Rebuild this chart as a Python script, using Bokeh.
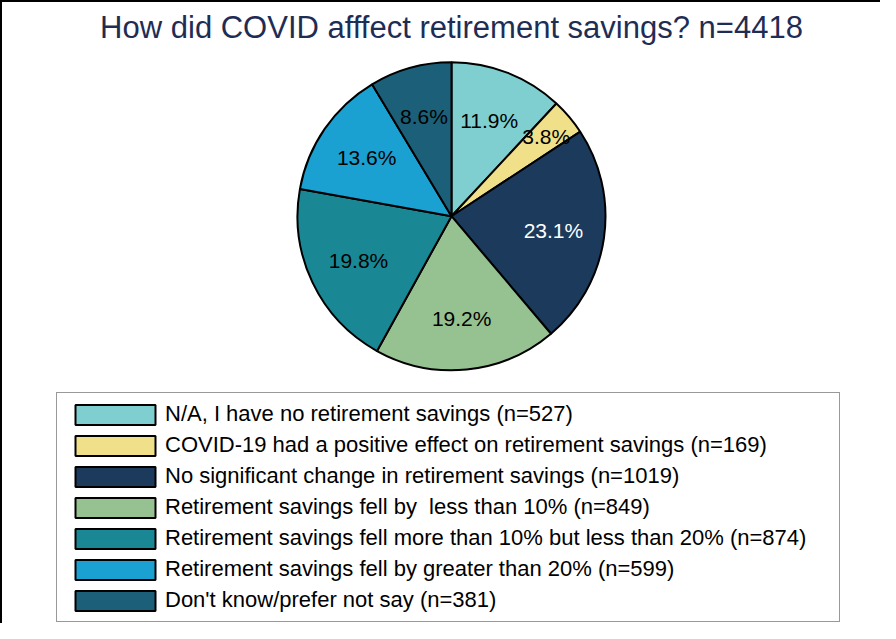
import numpy as np
from bokeh.plotting import figure
from bokeh.models import Range1d, ColumnDataSource, Legend, LegendItem
from bokeh.core.properties import value
from bokeh.embed import file_html
from bokeh.resources import INLINE

# ---- data -------------------------------------------------------------
title_text = "How did COVID afffect retirement savings? n=4418"
categories = [
    "N/A, I have no retirement savings",
    "COVID-19 had a positive effect on retirement savings",
    "No significant change in retirement savings",
    "Retirement savings fell by  less than 10%",
    "Retirement savings fell more than 10% but less than 20%",
    "Retirement savings fell by greater than 20%",
    "Don't know/prefer not say",
]
counts = [527, 169, 1019, 849, 874, 599, 381]

# ---- styles -----------------------------------------------------------
colors = ["#7FCFD0", "#F1E08A", "#1B3A5C", "#96C291", "#1A8894", "#1AA0D1", "#1C5F78"]
label_colors = ["black", "black", "white", "black", "black", "black", "black"]
label_dist = [103, 124, 103, 103, 103, 103, 103]   # px from centre
FONT = "Liberation Sans"

W, H = 880, 623
TOP = 50
LEFT = 18
frame_h = H - TOP
R = 154
cy = frame_h - (213 - TOP)

total = sum(counts)
frac = np.array(counts, dtype=float) / total
cum = np.concatenate([[0.0], np.cumsum(frac)])
start = np.pi / 2 - cum[:-1] * 2 * np.pi
end = np.pi / 2 - cum[1:] * 2 * np.pi
mid = (cum[:-1] + cum[1:]) / 2 * 2 * np.pi
pct = [f"{f * 100:.1f}%" for f in frac]
legend_labels = [f"{c} (n={n})" for c, n in zip(categories, counts)]

src = ColumnDataSource(dict(
    x=[0.0] * len(counts), y=[cy] * len(counts),
    start=start, end=end, color=colors,
    pct=pct, tcolor=label_colors,
    xo=np.array(label_dist) * np.sin(mid),
    yo=-np.array(label_dist) * np.cos(mid),
))

p = figure(width=W, height=H, output_backend="svg", toolbar_location=None,
           x_range=Range1d(-1, 1), y_range=Range1d(0, frame_h),
           x_axis_type=None, y_axis_type=None,
           min_border_left=LEFT, min_border_right=0,
           min_border_top=TOP, min_border_bottom=0,
           outline_line_color=None, title=title_text)
p.grid.visible = False
p.title.align = "center"
p.title.vertical_align = "top"
p.title.standoff = 14
p.title.text_font = FONT
p.title.text_font_size = "31px"
p.title.text_font_style = "normal"
p.title.text_color = "#1F2D55"
p.styles = {"border-top": "2px solid black", "border-left": "2px solid black"}

r = p.wedge(x="x", y="y", radius=R, radius_units="screen",
            start_angle="start", end_angle="end", direction="clock",
            fill_color="color", line_color="black", line_width=2, source=src)

p.text(x="x", y="y", text="pct", x_offset="xo", y_offset="yo",
       text_align="center", text_baseline="middle",
       text_font=value(FONT), text_font_size="21px", text_color="tcolor",
       source=src)

items = [LegendItem(label=lab, renderers=[r], index=i) for i, lab in enumerate(legend_labels)]
legend = Legend(items=items, location=(36, 3),
                label_text_font=FONT, label_text_font_size="22px",
                label_text_color="black",
                glyph_width=100, glyph_height=25, label_standoff=0,
                label_width=666, label_height=25,
                padding=8, spacing=5, margin=0,
                border_line_color="#333333", border_line_width=1,
                background_fill_color="white", background_fill_alpha=1)
p.add_layout(legend, "center")

open("out.html", "w").write(file_html(p, INLINE))
